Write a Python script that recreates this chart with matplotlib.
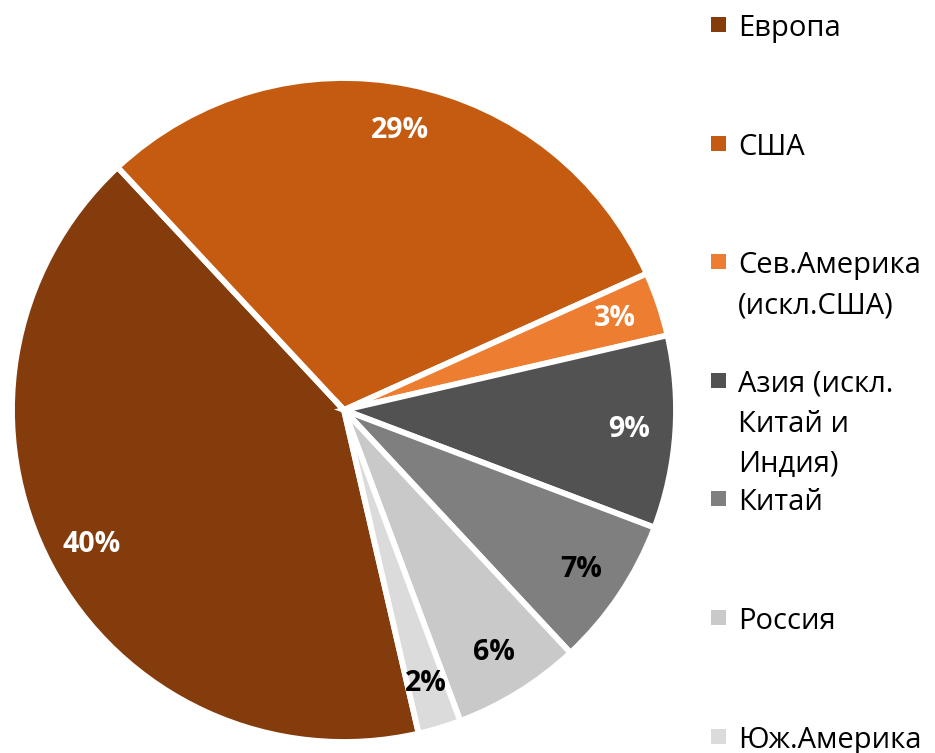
"""Pie chart: regional shares (recreation)."""

import matplotlib

matplotlib.use("Agg")
import matplotlib.pyplot as plt
import numpy as np
from matplotlib.patches import Rectangle

plt.rcParams["font.family"] = ["Open Sans", "DejaVu Sans"]

# data
regions = [
    "Европа",
    "США",
    "Сев.Америка\n(искл.США)",
    "Азия (искл.\nКитай и\nИндия)",
    "Китай",
    "Россия",
    "Юж.Америка",
]
shares = [40, 29, 3, 9, 7, 6, 2]

# styles
colors = ["#843C0C", "#C55A11", "#ED7D31", "#525252", "#7F7F7F", "#C9C9C9", "#DBDBDB"]
label_colors = ["white", "white", "white", "white", "black", "black", "black"]

W, H = 935, 753
fig = plt.figure(figsize=(W / 100, H / 100), dpi=100)

# pie axes placed in pixel terms
cx, cy, r = 344, 410, 332
pad = 1.05
ax = fig.add_axes([
    (cx - r * pad) / W,
    (H - cy - r * pad) / H,
    2 * r * pad / W,
    2 * r * pad / H,
])

wedges, _ = ax.pie(
    shares,
    colors=colors,
    startangle=-77,
    counterclock=False,
    wedgeprops=dict(edgecolor="white", linewidth=4.2),
)
for wedge in wedges:
    wedge.set_clip_on(False)

for wedge, value, tc in zip(wedges, shares, label_colors):
    mid = np.deg2rad((wedge.theta1 + wedge.theta2) / 2)
    dist = 0.86
    ax.text(
        dist * np.cos(mid),
        dist * np.sin(mid),
        f"{value}%",
        ha="center",
        va="center",
        fontsize=20.5,
        fontweight="bold",
        color=tc,
    )

ax.set_xlim(-pad, pad)
ax.set_ylim(-pad, pad)
ax.set_aspect("equal")
ax.axis("off")

# legend drawn by hand, marker next to the first text line
y0, step, line_gap = 36, 118.6, 40
for i, (name, col) in enumerate(zip(regions, colors)):
    base = y0 + i * step
    fig.patches.append(
        Rectangle(
            (711 / W, 1 - (base - 4) / H),
            15 / W,
            15 / H,
            transform=fig.transFigure,
            facecolor=col,
            edgecolor="none",
        )
    )
    for j, line in enumerate(name.split("\n")):
        fig.text(
            738 / W,
            1 - (base + j * line_gap) / H,
            line,
            ha="left",
            va="baseline",
            fontsize=21,
            color="black",
        )

fig.savefig("out.png", dpi=100)
